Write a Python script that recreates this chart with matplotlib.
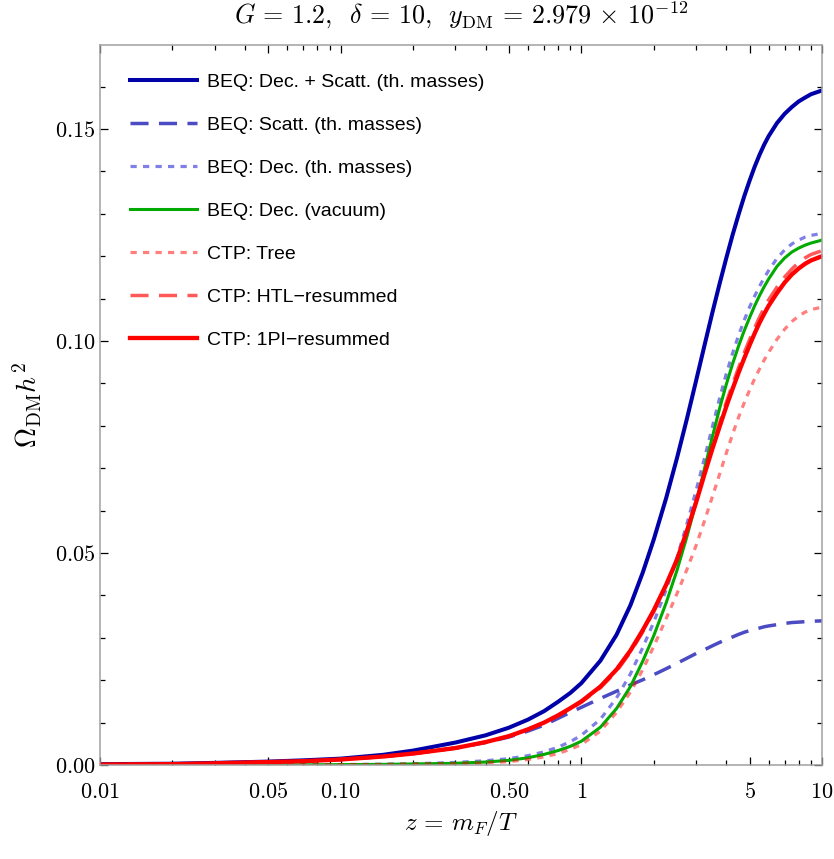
import matplotlib
matplotlib.use("Agg")
import matplotlib.pyplot as plt
from matplotlib.ticker import FixedLocator, FixedFormatter, NullFormatter

plt.rcParams['mathtext.fontset'] = 'cm'
plt.rcParams['lines.scale_dashes'] = False

# ---- data ----
z = [0.01, 0.02, 0.03, 0.05, 0.07, 0.1, 0.15, 0.2, 0.3, 0.4, 0.5, 0.6, 0.7, 0.8, 0.9,
     1.0, 1.2, 1.4, 1.6, 1.8, 2.0, 2.25, 2.5, 2.75, 3.0, 3.25, 3.5, 3.75, 4.0, 4.25, 4.5,
     4.75, 5.0, 5.25, 5.5, 5.75, 6.0, 6.5, 7.0, 7.5, 8.0, 8.5, 9.0, 10.0]

beq_dec_scatt = [0.0002, 0.0003, 0.0005, 0.0008, 0.0011, 0.0015, 0.0024, 0.0034, 0.0053, 0.0070,
                 0.0088, 0.0107, 0.0127, 0.0149, 0.0170, 0.0193, 0.0246, 0.0307, 0.0377, 0.0454,
                 0.0532, 0.0629, 0.0725, 0.0818, 0.0907, 0.0990, 0.1066, 0.1134, 0.1195, 0.1250,
                 0.1298, 0.1341, 0.1378, 0.1411, 0.1439, 0.1463, 0.1483, 0.1514, 0.1536, 0.1552,
                 0.1565, 0.1574, 0.1582, 0.1591]
beq_scatt = [0.0001, 0.0002, 0.0004, 0.0007, 0.0009, 0.0013, 0.0020, 0.0027, 0.0040, 0.0053,
             0.0066, 0.0080, 0.0094, 0.0110, 0.0124, 0.0136, 0.0157, 0.0174, 0.0189, 0.0201,
             0.0213, 0.0227, 0.0240, 0.0252, 0.0263, 0.0272, 0.0281, 0.0289, 0.0296, 0.0302,
             0.0308, 0.0313, 0.0317, 0.0320, 0.0323, 0.0326, 0.0328, 0.0331, 0.0334, 0.0336,
             0.0337, 0.0338, 0.0339, 0.0340]
beq_dec_th = [0.0, 0.0, 0.0, 0.00003, 0.00006, 0.0001, 0.0002, 0.0003, 0.0006, 0.0010,
              0.0015, 0.0022, 0.0031, 0.0042, 0.0055, 0.0070, 0.0108, 0.0158, 0.0215, 0.0277,
              0.0337, 0.0413, 0.0490, 0.0570, 0.0648, 0.0724, 0.0797, 0.0864, 0.0922, 0.0971,
              0.1013, 0.1049, 0.1080, 0.1106, 0.1129, 0.1149, 0.1166, 0.1195, 0.1215, 0.1229,
              0.1238, 0.1245, 0.1249, 0.1254]
beq_dec_vac = [0.0, 0.0, 0.0, 0.00002, 0.00004, 0.00008, 0.00015, 0.00025, 0.0004, 0.0007,
               0.0011, 0.0017, 0.0025, 0.0034, 0.0044, 0.0056, 0.0089, 0.0133, 0.0185, 0.0245,
               0.0305, 0.0382, 0.0460, 0.0540, 0.0620, 0.0699, 0.0773, 0.0840, 0.0897, 0.0946,
               0.0988, 0.1024, 0.1055, 0.1083, 0.1107, 0.1128, 0.1146, 0.1176, 0.1196, 0.1210,
               0.1219, 0.1226, 0.1231, 0.1238]
ctp_tree = [0.0, 0.0, 0.0, 0.00001, 0.00003, 0.00005, 0.0001, 0.0002, 0.0003, 0.0005,
            0.0008, 0.0013, 0.0019, 0.0027, 0.0037, 0.0048, 0.0080, 0.0124, 0.0172, 0.0225,
            0.0280, 0.0345, 0.0405, 0.0462, 0.0518, 0.0576, 0.0632, 0.0685, 0.0735, 0.0780,
            0.0820, 0.0854, 0.0884, 0.0911, 0.0934, 0.0955, 0.0973, 0.1004, 0.1028, 0.1046,
            0.1059, 0.1068, 0.1074, 0.1080]
ctp_htl = [0.0001, 0.0002, 0.0004, 0.0007, 0.0009, 0.0013, 0.0020, 0.0027, 0.0040, 0.0054,
           0.0068, 0.0084, 0.0100, 0.0116, 0.0132, 0.0148, 0.0182, 0.0221, 0.0266, 0.0314,
           0.0362, 0.0423, 0.0485, 0.0553, 0.0623, 0.0690, 0.0752, 0.0806, 0.0855, 0.0898,
           0.0937, 0.0972, 0.1003, 0.1031, 0.1056, 0.1078, 0.1097, 0.1127, 0.1151, 0.1170,
           0.1185, 0.1196, 0.1204, 0.1213]
ctp_1pi = [0.0001, 0.0002, 0.0004, 0.0007, 0.0009, 0.0013, 0.0020, 0.0027, 0.0040, 0.0054,
           0.0068, 0.0084, 0.0100, 0.0117, 0.0134, 0.0150, 0.0185, 0.0225, 0.0270, 0.0318,
           0.0365, 0.0425, 0.0485, 0.0553, 0.0620, 0.0686, 0.0745, 0.0797, 0.0845, 0.0887,
           0.0925, 0.0959, 0.0990, 0.1018, 0.1043, 0.1064, 0.1083, 0.1113, 0.1138, 0.1157,
           0.1171, 0.1182, 0.1190, 0.1200]

labels = ["BEQ: Dec. + Scatt. (th. masses)", "BEQ: Scatt. (th. masses)",
          "BEQ: Dec. (th. masses)", "BEQ: Dec. (vacuum)", "CTP: Tree",
          "CTP: HTL\u2212resummed", "CTP: 1PI\u2212resummed"]

x_major = [0.01, 0.05, 0.1, 0.5, 1, 5, 10]
x_major_labels = ["0.01", "0.05", "0.10", "0.50", "1", "5", "10"]
x_minor = [0.02, 0.03, 0.04, 0.06, 0.07, 0.08, 0.09, 0.2, 0.3, 0.4, 0.6, 0.7, 0.8, 0.9,
           2, 3, 4, 6, 7, 8, 9]
y_major = [0.0, 0.05, 0.10, 0.15]
y_major_labels = ["0.00", "0.05", "0.10", "0.15"]
y_minor = [0.01, 0.02, 0.03, 0.04, 0.06, 0.07, 0.08, 0.09, 0.11, 0.12, 0.13, 0.14, 0.16]

# ---- figure ----
fig = plt.figure(figsize=(8.34, 8.59), dpi=100)
ax = fig.add_axes([100/834, 1-765/859, 722/834, 720/859])

ax.plot(z, beq_dec_scatt, color='#0000A8', lw=2.9, label=labels[0])
ax.plot(z, beq_scatt, color='#4B4BC4', lw=2.5, dashes=(13, 7.5), label=labels[1])
ax.plot(z, beq_dec_th, color='#0000CC', alpha=0.5, lw=2.3, dashes=(4.5, 4.5), label=labels[2])
ax.plot(z, beq_dec_vac, color='#00AA00', lw=2.2, label=labels[3])
ax.plot(z, ctp_tree, color='#FF0000', alpha=0.5, lw=2.3, dashes=(4.5, 4.5), label=labels[4])
ax.plot(z, ctp_htl, color='#FF0000', alpha=0.65, lw=2.5, dashes=(13, 7.5), label=labels[5])
ax.plot(z, ctp_1pi, color='#FF0000', lw=3.1, label=labels[6])

ax.set_xscale('log')
ax.set_xlim(0.01, 10)
ax.set_ylim(0.0, 720/4240)

ax.xaxis.set_major_locator(FixedLocator(x_major))
ax.xaxis.set_major_formatter(FixedFormatter(['$' + s + '$' for s in x_major_labels]))
ax.xaxis.set_minor_locator(FixedLocator(x_minor))
ax.xaxis.set_minor_formatter(NullFormatter())
ax.yaxis.set_major_locator(FixedLocator(y_major))
ax.yaxis.set_major_formatter(FixedFormatter(['$' + s + '$' for s in y_major_labels]))
ax.yaxis.set_minor_locator(FixedLocator(y_minor))

ax.tick_params(which='both', direction='in', top=True, right=True, color='black', width=0.9)
ax.tick_params(which='major', length=6)
ax.tick_params(which='minor', length=3.5)
ax.tick_params(axis='x', which='major', pad=12.5, labelsize=16)
ax.tick_params(axis='y', which='major', pad=3, labelsize=16)

for sp in ax.spines.values():
    sp.set_color('#A0A0A0')
    sp.set_linewidth(1.1)

ax.set_title(r'$G\,=\,1.2,\;\;\delta\,=\,10,\;\;y_{\rm DM}\,=\,2.979\,\times\,10^{-12}$',
             fontsize=18.8, pad=15)
ax.set_xlabel(r'$z\,=\,m_F/T$', fontsize=18, labelpad=5)
ax.set_ylabel(r'$\Omega_{\rm DM}h^2$', fontsize=20, labelpad=8)

leg = ax.legend(loc='upper left', bbox_to_anchor=(30/722, 1 - 28/720), frameon=False,
                borderpad=0, borderaxespad=0, handlelength=3.45, handletextpad=0.5,
                labelspacing=1.31, prop={'family': 'Liberation Sans', 'size': 14})

fig.savefig('out.png', dpi=100)
